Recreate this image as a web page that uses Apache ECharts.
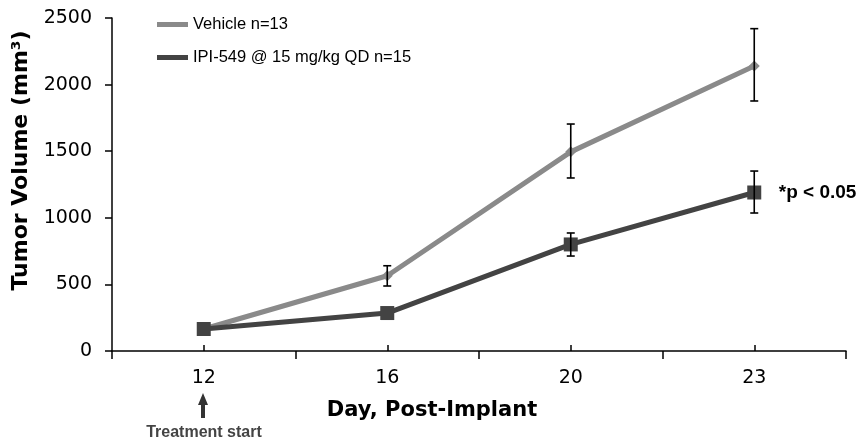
<!DOCTYPE html>
<html><head><meta charset="utf-8">
<script src="https://cdn.jsdelivr.net/npm/echarts@6/dist/echarts.min.js"></script>
<style>html,body{margin:0;padding:0;background:#fff}#c{width:868px;height:446px}</style>
</head><body><div id="c"></div>
<script>
var days = ['12','16','20','23'];
var vehicleName = 'Vehicle n=13';
var drugName = 'IPI-549 @ 15 mg/kg QD n=15';
var vehicleMean = [165, 565, 1495, 2140];
var vehicleLow  = [165, 488, 1299, 1877];
var vehicleHigh = [165, 640, 1704, 2420];
var drugMean = [165, 285, 800, 1190];
var drugLow  = [165, 285, 713, 1036];
var drugHigh = [165, 285, 886, 1351];
var yTicks = [0, 500, 1000, 1500, 2000, 2500];

var font = 'Liberation Sans, Arial, sans-serif';
var wide = 'DejaVu Sans, sans-serif';
function errData(low, high){ var d=[]; for(var i=0;i<low.length;i++){ if(high[i]-low[i]>1) d.push([i, low[i], high[i]]); } return d; }
function errRender(params, api){
  var x = api.value(0), lo = api.value(1), hi = api.value(2);
  var p1 = api.coord([x, hi]), p2 = api.coord([x, lo]);
  var w = 4;
  var st = {stroke:'#000', lineWidth:1.6};
  return {type:'group', children:[
    {type:'line', shape:{x1:p1[0],y1:p1[1],x2:p2[0],y2:p2[1]}, style:st},
    {type:'line', shape:{x1:p1[0]-w,y1:p1[1],x2:p1[0]+w,y2:p1[1]}, style:st},
    {type:'line', shape:{x1:p2[0]-w,y1:p2[1],x2:p2[0]+w,y2:p2[1]}, style:st}
  ]};
}
var chart = echarts.init(document.getElementById('c'), null, {renderer:'canvas'});
chart.setOption({
  animation:false,
  backgroundColor:'#fff',
  grid:{left:112, right:22, top:18, bottom:95},
  legend:{
    orient:'vertical', left:152, top:11, itemGap:16,
    itemWidth:31, itemHeight:5, icon:'rect',
    textStyle:{fontFamily:font, fontSize:16.5, color:'#000'},
    data:[{name:vehicleName},{name:drugName}]
  },
  xAxis:[{
    type:'category', data:days, boundaryGap:true,
    axisLine:{lineStyle:{color:'#000', width:1.5}},
    axisTick:{show:true, length:8, inside:false, lineStyle:{color:'#000', width:1.5}},
    axisLabel:{fontFamily:wide, fontSize:19, color:'#000', margin:18},
    name:'Day, Post-Implant', nameLocation:'middle', nameGap:49,
    nameTextStyle:{fontFamily:wide, fontSize:21, fontWeight:'bold', color:'#000', padding:[0,94,0,0]}
  },{
    type:'category', data:days, boundaryGap:true, position:'bottom',
    axisLine:{show:false},
    axisTick:{show:true, alignWithLabel:true, inside:true, length:6, lineStyle:{color:'#000', width:1.5}},
    axisLabel:{show:false}
  }],
  yAxis:{
    type:'value', min:0, max:2500, interval:500,
    splitLine:{show:false},
    axisLine:{show:true, lineStyle:{color:'#000', width:1.5}},
    axisTick:{show:true, length:7, lineStyle:{color:'#000', width:1.5}},
    axisLabel:{fontFamily:wide, fontSize:19, color:'#000', margin:20,
      formatter:function(v){ return yTicks.indexOf(v)>=0 ? String(v) : ''; }},
    name:'Tumor Volume (mm³)', nameLocation:'middle', nameGap:79, nameRotate:90,
    nameTextStyle:{fontFamily:wide, fontSize:22, fontWeight:'bold', color:'#000', padding:[0,0,0,48]}
  },
  series:[
    {name:vehicleName, type:'line', data:vehicleMean, symbol:'diamond', symbolSize:11,
      lineStyle:{color:'#8a8a8a', width:5}, itemStyle:{color:'#8a8a8a'}, z:2},
    {name:drugName, type:'line', data:drugMean, symbol:'rect', symbolSize:14,
      lineStyle:{color:'#434343', width:5}, itemStyle:{color:'#434343'}, z:3,
      markPoint:{symbol:'circle', symbolSize:1, itemStyle:{color:'rgba(0,0,0,0)'},
        label:{show:true, position:'right', distance:0, offset:[24,0], formatter:'*p < 0.05',
          fontFamily:font, fontSize:19, fontWeight:'bold', color:'#000'},
        data:[{coord:[3, drugMean[3]]}]}},
    {type:'custom', data:errData(vehicleLow, vehicleHigh), renderItem:errRender, z:5, silent:true},
    {type:'custom', data:errData(drugLow, drugHigh), renderItem:errRender, z:5, silent:true}
  ],
  graphic:[
    {type:'polygon', shape:{points:[[203,393],[208,405],[205,405],[205,418],[201,418],[201,405],[198,405]]},
      style:{fill:'#333'}},
    {type:'text', x:204, y:433, style:{text:'Treatment start', fontFamily:font, fontSize:16, fontWeight:'bold', fill:'#444', align:'center', verticalAlign:'middle'}}
  ]
});
</script></body></html>
